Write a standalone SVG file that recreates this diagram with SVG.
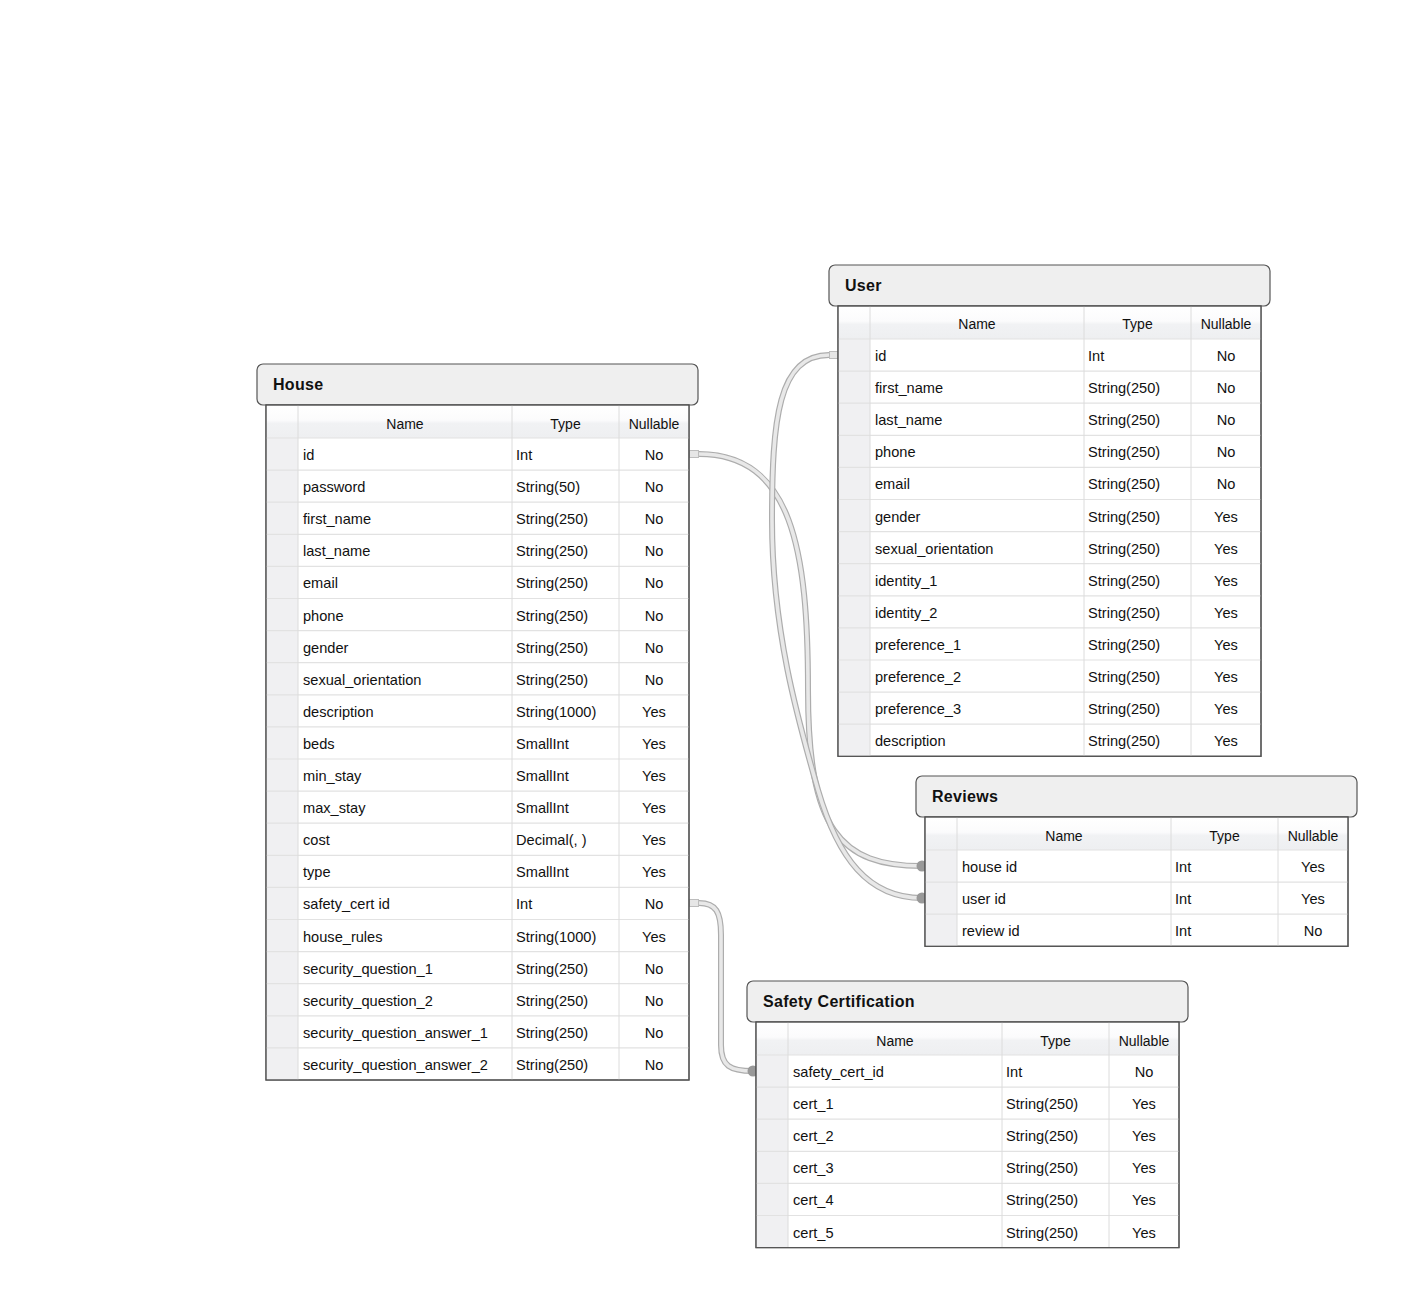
<svg xmlns="http://www.w3.org/2000/svg" xmlns:xlink="http://www.w3.org/1999/xlink" width="1411" height="1309" viewBox="0 0 1411 1309">
<style>
.title{fill:#efefef;stroke:#555;stroke-width:1.2}
.tbl{fill:#fff;stroke:#555;stroke-width:1.2}
.idx{fill:#f0f0f2}
.hdr{fill:url(#hg)}
.col{stroke:#dcdcdc;stroke-width:1}
.row{stroke:#e2e2e2;stroke-width:1.2}
.ttl{font-family:"Liberation Sans",Arial,sans-serif;font-size:16px;font-weight:bold;fill:#111;letter-spacing:0.3px}
.h{font-family:"Liberation Sans",Arial,sans-serif;font-size:14px;fill:#111;text-anchor:middle}
.d{font-family:"Liberation Sans",Arial,sans-serif;font-size:14.6px;fill:#111}
.n{font-family:"Liberation Sans",Arial,sans-serif;font-size:14.6px;fill:#111;text-anchor:middle}
.pipeo{fill:none;stroke:#adadad;stroke-width:6}
.pipei{fill:none;stroke:#e8e8e8;stroke-width:3.6}
.sq{fill:#e6e6e6;stroke:#bdbdbd;stroke-width:1}
.dot{fill:#999}
</style>
<defs>
<linearGradient id="hg" x1="0" y1="0" x2="0" y2="1">
<stop offset="0" stop-color="#ffffff"/>
<stop offset="0.45" stop-color="#fbfbfc"/>
<stop offset="0.55" stop-color="#f1f2f4"/>
<stop offset="1" stop-color="#eeeff1"/>
</linearGradient>
<path id="c1" d="M699,454 C792,454 808,550 808,690 C808,830 840,866 922,866"/>
<path id="c2" d="M829,355 C778,355 772,420 772,520 C772,630 798,720 818,790 C838,858 868,898 922,898"/>
<path id="c3" d="M699,903 C716,903 721,912 721,935 L721,1045 C721,1066 730,1071 753,1071"/>
</defs>
<rect width="1411" height="1309" fill="#fff"/>

<g id="connectors">
<use xlink:href="#c1" class="pipeo"/><use xlink:href="#c1" class="pipei"/>
<use xlink:href="#c2" class="pipeo"/><use xlink:href="#c2" class="pipei"/>
<use xlink:href="#c3" class="pipeo"/><use xlink:href="#c3" class="pipei"/>
<circle class="dot" cx="922" cy="866" r="5.5"/>
<circle class="dot" cx="922" cy="898" r="5.5"/>
<circle class="dot" cx="753" cy="1071" r="5.5"/>
<rect class="sq" x="689.5" y="450.5" width="9" height="7"/>
<rect class="sq" x="829.5" y="351.5" width="9" height="7"/>
<rect class="sq" x="689.5" y="899.5" width="9" height="7"/>
</g>

<g id="house" transform="translate(266,364)">
<rect class="title" x="-9" y="0" width="441" height="41" rx="6"/>
<text class="ttl" x="7" y="26">House</text>
<rect class="tbl" x="0" y="41" width="423" height="675"/>
<rect class="hdr" x="0.6" y="41.6" width="421.8" height="32.4"/>
<rect class="idx" x="0.6" y="74" width="31.4" height="641.4"/>
<g class="row">
<line x1="0" y1="74" x2="423" y2="74"/>
<line x1="0" y1="106.1" x2="423" y2="106.1"/><line x1="0" y1="138.2" x2="423" y2="138.2"/><line x1="0" y1="170.3" x2="423" y2="170.3"/><line x1="0" y1="202.4" x2="423" y2="202.4"/><line x1="0" y1="234.5" x2="423" y2="234.5"/><line x1="0" y1="266.6" x2="423" y2="266.6"/><line x1="0" y1="298.7" x2="423" y2="298.7"/><line x1="0" y1="330.8" x2="423" y2="330.8"/><line x1="0" y1="362.9" x2="423" y2="362.9"/><line x1="0" y1="395" x2="423" y2="395"/><line x1="0" y1="427.1" x2="423" y2="427.1"/><line x1="0" y1="459.2" x2="423" y2="459.2"/><line x1="0" y1="491.3" x2="423" y2="491.3"/><line x1="0" y1="523.4" x2="423" y2="523.4"/><line x1="0" y1="555.5" x2="423" y2="555.5"/><line x1="0" y1="587.6" x2="423" y2="587.6"/><line x1="0" y1="619.7" x2="423" y2="619.7"/><line x1="0" y1="651.8" x2="423" y2="651.8"/><line x1="0" y1="683.9" x2="423" y2="683.9"/>
</g>
<g class="col"><line x1="32" y1="41" x2="32" y2="716"/><line x1="246" y1="41" x2="246" y2="716"/><line x1="353" y1="41" x2="353" y2="716"/></g>
<rect x="0" y="41" width="423" height="675" fill="none" stroke="#555" stroke-width="1.2"/>
<g transform="translate(0,1)">
<text class="h" x="139" y="64">Name</text><text class="h" x="299.5" y="64">Type</text><text class="h" x="388" y="64">Nullable</text>
<text class="d" x="37" y="95">id</text><text class="d" x="250" y="95">Int</text><text class="n" x="388" y="95">No</text>
<text class="d" x="37" y="127.1">password</text><text class="d" x="250" y="127.1">String(50)</text><text class="n" x="388" y="127.1">No</text>
<text class="d" x="37" y="159.2">first_name</text><text class="d" x="250" y="159.2">String(250)</text><text class="n" x="388" y="159.2">No</text>
<text class="d" x="37" y="191.3">last_name</text><text class="d" x="250" y="191.3">String(250)</text><text class="n" x="388" y="191.3">No</text>
<text class="d" x="37" y="223.4">email</text><text class="d" x="250" y="223.4">String(250)</text><text class="n" x="388" y="223.4">No</text>
<text class="d" x="37" y="255.5">phone</text><text class="d" x="250" y="255.5">String(250)</text><text class="n" x="388" y="255.5">No</text>
<text class="d" x="37" y="287.6">gender</text><text class="d" x="250" y="287.6">String(250)</text><text class="n" x="388" y="287.6">No</text>
<text class="d" x="37" y="319.7">sexual_orientation</text><text class="d" x="250" y="319.7">String(250)</text><text class="n" x="388" y="319.7">No</text>
<text class="d" x="37" y="351.8">description</text><text class="d" x="250" y="351.8">String(1000)</text><text class="n" x="388" y="351.8">Yes</text>
<text class="d" x="37" y="383.9">beds</text><text class="d" x="250" y="383.9">SmallInt</text><text class="n" x="388" y="383.9">Yes</text>
<text class="d" x="37" y="416">min_stay</text><text class="d" x="250" y="416">SmallInt</text><text class="n" x="388" y="416">Yes</text>
<text class="d" x="37" y="448.1">max_stay</text><text class="d" x="250" y="448.1">SmallInt</text><text class="n" x="388" y="448.1">Yes</text>
<text class="d" x="37" y="480.2">cost</text><text class="d" x="250" y="480.2">Decimal(, )</text><text class="n" x="388" y="480.2">Yes</text>
<text class="d" x="37" y="512.3">type</text><text class="d" x="250" y="512.3">SmallInt</text><text class="n" x="388" y="512.3">Yes</text>
<text class="d" x="37" y="544.4">safety_cert id</text><text class="d" x="250" y="544.4">Int</text><text class="n" x="388" y="544.4">No</text>
<text class="d" x="37" y="576.5">house_rules</text><text class="d" x="250" y="576.5">String(1000)</text><text class="n" x="388" y="576.5">Yes</text>
<text class="d" x="37" y="608.6">security_question_1</text><text class="d" x="250" y="608.6">String(250)</text><text class="n" x="388" y="608.6">No</text>
<text class="d" x="37" y="640.7">security_question_2</text><text class="d" x="250" y="640.7">String(250)</text><text class="n" x="388" y="640.7">No</text>
<text class="d" x="37" y="672.8">security_question_answer_1</text><text class="d" x="250" y="672.8">String(250)</text><text class="n" x="388" y="672.8">No</text>
<text class="d" x="37" y="704.9">security_question_answer_2</text><text class="d" x="250" y="704.9">String(250)</text><text class="n" x="388" y="704.9">No</text>
</g>
</g>

<g id="user" transform="translate(838,265)">
<rect class="title" x="-9" y="0" width="441" height="41" rx="6"/>
<text class="ttl" x="7" y="26">User</text>
<rect class="tbl" x="0" y="41" width="423" height="450.3"/>
<rect class="hdr" x="0.6" y="41.6" width="421.8" height="32.4"/>
<rect class="idx" x="0.6" y="74" width="31.4" height="416.7"/>
<g class="row">
<line x1="0" y1="74" x2="423" y2="74"/>
<line x1="0" y1="106.1" x2="423" y2="106.1"/><line x1="0" y1="138.2" x2="423" y2="138.2"/><line x1="0" y1="170.3" x2="423" y2="170.3"/><line x1="0" y1="202.4" x2="423" y2="202.4"/><line x1="0" y1="234.5" x2="423" y2="234.5"/><line x1="0" y1="266.6" x2="423" y2="266.6"/><line x1="0" y1="298.7" x2="423" y2="298.7"/><line x1="0" y1="330.8" x2="423" y2="330.8"/><line x1="0" y1="362.9" x2="423" y2="362.9"/><line x1="0" y1="395" x2="423" y2="395"/><line x1="0" y1="427.1" x2="423" y2="427.1"/><line x1="0" y1="459.2" x2="423" y2="459.2"/>
</g>
<g class="col"><line x1="32" y1="41" x2="32" y2="491.3"/><line x1="246" y1="41" x2="246" y2="491.3"/><line x1="353" y1="41" x2="353" y2="491.3"/></g>
<rect x="0" y="41" width="423" height="450.3" fill="none" stroke="#555" stroke-width="1.2"/>
<g transform="translate(0,1)">
<text class="h" x="139" y="63">Name</text><text class="h" x="299.5" y="63">Type</text><text class="h" x="388" y="63">Nullable</text>
<text class="d" x="37" y="95">id</text><text class="d" x="250" y="95">Int</text><text class="n" x="388" y="95">No</text>
<text class="d" x="37" y="127.1">first_name</text><text class="d" x="250" y="127.1">String(250)</text><text class="n" x="388" y="127.1">No</text>
<text class="d" x="37" y="159.2">last_name</text><text class="d" x="250" y="159.2">String(250)</text><text class="n" x="388" y="159.2">No</text>
<text class="d" x="37" y="191.3">phone</text><text class="d" x="250" y="191.3">String(250)</text><text class="n" x="388" y="191.3">No</text>
<text class="d" x="37" y="223.4">email</text><text class="d" x="250" y="223.4">String(250)</text><text class="n" x="388" y="223.4">No</text>
<text class="d" x="37" y="255.5">gender</text><text class="d" x="250" y="255.5">String(250)</text><text class="n" x="388" y="255.5">Yes</text>
<text class="d" x="37" y="287.6">sexual_orientation</text><text class="d" x="250" y="287.6">String(250)</text><text class="n" x="388" y="287.6">Yes</text>
<text class="d" x="37" y="319.7">identity_1</text><text class="d" x="250" y="319.7">String(250)</text><text class="n" x="388" y="319.7">Yes</text>
<text class="d" x="37" y="351.8">identity_2</text><text class="d" x="250" y="351.8">String(250)</text><text class="n" x="388" y="351.8">Yes</text>
<text class="d" x="37" y="383.9">preference_1</text><text class="d" x="250" y="383.9">String(250)</text><text class="n" x="388" y="383.9">Yes</text>
<text class="d" x="37" y="416">preference_2</text><text class="d" x="250" y="416">String(250)</text><text class="n" x="388" y="416">Yes</text>
<text class="d" x="37" y="448.1">preference_3</text><text class="d" x="250" y="448.1">String(250)</text><text class="n" x="388" y="448.1">Yes</text>
<text class="d" x="37" y="480.2">description</text><text class="d" x="250" y="480.2">String(250)</text><text class="n" x="388" y="480.2">Yes</text>
</g>
</g>

<g id="reviews" transform="translate(925,776)">
<rect class="title" x="-9" y="0" width="441" height="41" rx="6"/>
<text class="ttl" x="7" y="26">Reviews</text>
<rect class="tbl" x="0" y="41" width="423" height="129.3"/>
<rect class="hdr" x="0.6" y="41.6" width="421.8" height="32.4"/>
<rect class="idx" x="0.6" y="74" width="31.4" height="95.7"/>
<g class="row">
<line x1="0" y1="74" x2="423" y2="74"/>
<line x1="0" y1="106.1" x2="423" y2="106.1"/><line x1="0" y1="138.2" x2="423" y2="138.2"/>
</g>
<g class="col"><line x1="32" y1="41" x2="32" y2="170.3"/><line x1="246" y1="41" x2="246" y2="170.3"/><line x1="353" y1="41" x2="353" y2="170.3"/></g>
<rect x="0" y="41" width="423" height="129.3" fill="none" stroke="#555" stroke-width="1.2"/>
<g transform="translate(0,1)">
<text class="h" x="139" y="64">Name</text><text class="h" x="299.5" y="64">Type</text><text class="h" x="388" y="64">Nullable</text>
<text class="d" x="37" y="95">house id</text><text class="d" x="250" y="95">Int</text><text class="n" x="388" y="95">Yes</text>
<text class="d" x="37" y="127.1">user id</text><text class="d" x="250" y="127.1">Int</text><text class="n" x="388" y="127.1">Yes</text>
<text class="d" x="37" y="159.2">review id</text><text class="d" x="250" y="159.2">Int</text><text class="n" x="388" y="159.2">No</text>
</g>
</g>

<g id="safety-certification" transform="translate(756,981)">
<rect class="title" x="-9" y="0" width="441" height="41" rx="6"/>
<text class="ttl" x="7" y="26">Safety Certification</text>
<rect class="tbl" x="0" y="41" width="423" height="225.6"/>
<rect class="hdr" x="0.6" y="41.6" width="421.8" height="32.4"/>
<rect class="idx" x="0.6" y="74" width="31.4" height="192"/>
<g class="row">
<line x1="0" y1="74" x2="423" y2="74"/>
<line x1="0" y1="106.1" x2="423" y2="106.1"/><line x1="0" y1="138.2" x2="423" y2="138.2"/><line x1="0" y1="170.3" x2="423" y2="170.3"/><line x1="0" y1="202.4" x2="423" y2="202.4"/><line x1="0" y1="234.5" x2="423" y2="234.5"/>
</g>
<g class="col"><line x1="32" y1="41" x2="32" y2="266.6"/><line x1="246" y1="41" x2="246" y2="266.6"/><line x1="353" y1="41" x2="353" y2="266.6"/></g>
<rect x="0" y="41" width="423" height="225.6" fill="none" stroke="#555" stroke-width="1.2"/>
<g transform="translate(0,1)">
<text class="h" x="139" y="64">Name</text><text class="h" x="299.5" y="64">Type</text><text class="h" x="388" y="64">Nullable</text>
<text class="d" x="37" y="95">safety_cert_id</text><text class="d" x="250" y="95">Int</text><text class="n" x="388" y="95">No</text>
<text class="d" x="37" y="127.1">cert_1</text><text class="d" x="250" y="127.1">String(250)</text><text class="n" x="388" y="127.1">Yes</text>
<text class="d" x="37" y="159.2">cert_2</text><text class="d" x="250" y="159.2">String(250)</text><text class="n" x="388" y="159.2">Yes</text>
<text class="d" x="37" y="191.3">cert_3</text><text class="d" x="250" y="191.3">String(250)</text><text class="n" x="388" y="191.3">Yes</text>
<text class="d" x="37" y="223.4">cert_4</text><text class="d" x="250" y="223.4">String(250)</text><text class="n" x="388" y="223.4">Yes</text>
<text class="d" x="37" y="255.5">cert_5</text><text class="d" x="250" y="255.5">String(250)</text><text class="n" x="388" y="255.5">Yes</text>
</g>
</g>
</svg>
